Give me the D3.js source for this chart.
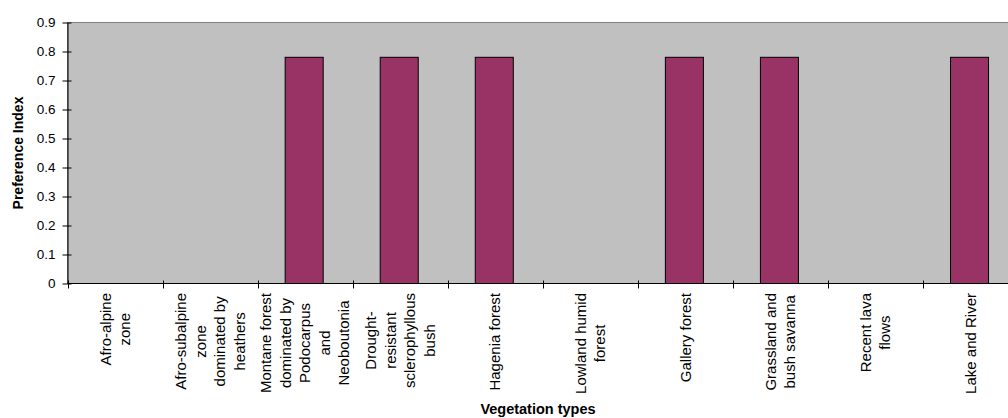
<!DOCTYPE html>
<html>
<head>
<meta charset="utf-8">
<script src="https://cdn.jsdelivr.net/npm/d3@7"></script>
<style>
  body { margin: 0; background: #fff; }
  svg { display: block; font-family: "Liberation Sans", Arial, sans-serif; }
</style>
</head>
<body>
<div id="chart"></div>
<script>
// chart data
var categories = [
  "Afro-alpine zone",
  "Afro-subalpine zone dominated by heathers",
  "Montane forest dominated by Podocarpus and Neoboutonia",
  "Drought-resistant sclerophyllous bush",
  "Hagenia forest",
  "Lowland humid forest",
  "Gallery forest",
  "Grassland and bush savanna",
  "Recent lava flows",
  "Lake and River"
];
// how each category label wraps in the picture
var labelLines = [
  ["Afro-alpine", "zone"],
  ["Afro-subalpine", "zone", "dominated by", "heathers"],
  ["Montane forest", "dominated by", "Podocarpus", "and", "Neoboutonia"],
  ["Drought-", "resistant", "sclerophyllous", "bush"],
  ["Hagenia forest"],
  ["Lowland humid", "forest"],
  ["Gallery forest"],
  ["Grassland and", "bush savanna"],
  ["Recent lava", "flows"],
  ["Lake and River"]
];
var preferenceIndex = [0, 0, 0.78, 0.78, 0.78, 0, 0.78, 0.78, 0, 0.78];
var yTicks = [0, 0.1, 0.2, 0.3, 0.4, 0.5, 0.6, 0.7, 0.8, 0.9];
var yTickLabels = ["0", "0.1", "0.2", "0.3", "0.4", "0.5", "0.6", "0.7", "0.8", "0.9"];

var width = 1008, height = 418;
var plot = { left: 67.5, right: 1018, top: 22.5, bottom: 283.5 };

var svg = d3.select("#chart").append("svg")
  .attr("width", width)
  .attr("height", height);

var x = d3.scaleBand()
  .domain(categories)
  .range([plot.left, plot.right])
  .padding(0);

var y = d3.scaleLinear()
  .domain([0, 0.9])
  .range([plot.bottom, plot.top]);

// plot area
svg.append("rect")
  .attr("x", plot.left)
  .attr("y", plot.top)
  .attr("width", plot.right - plot.left)
  .attr("height", plot.bottom - plot.top)
  .attr("fill", "#c0c0c0")
  .attr("stroke", "#808080")
  .attr("stroke-width", 1);

// bars
var bw = x.bandwidth();
svg.selectAll("rect.bar")
  .data(categories)
  .enter().append("rect")
    .attr("class", "bar")
    .attr("x", d => x(d) + bw * 0.29)
    .attr("y", (d, i) => y(preferenceIndex[i]))
    .attr("width", bw * 0.4)
    .attr("height", (d, i) => y(0) - y(preferenceIndex[i]))
    .attr("fill", "#993366")
    .attr("stroke", "#000")
    .attr("stroke-width", 1)
    .style("display", (d, i) => preferenceIndex[i] > 0 ? null : "none");

// y axis
var yAxis = d3.axisLeft(y)
  .tickValues(yTicks)
  .tickFormat((d, i) => yTickLabels[i])
  .tickSizeOuter(0)
  .tickSizeInner(5)
  .tickPadding(7);

var gy = svg.append("g")
  .attr("transform", "translate(" + plot.left + ",0)")
  .call(yAxis);
gy.select(".domain").attr("stroke", "#000");
gy.selectAll(".tick line").attr("x2", -5).attr("x1", 4).attr("stroke", "#000");
gy.selectAll(".tick text")
  .attr("font-size", "13.5px")
  .attr("font-family", "'Liberation Sans', Arial, sans-serif")
  .attr("fill", "#000");

// x axis line and ticks at category boundaries
svg.append("line")
  .attr("x1", plot.left).attr("x2", plot.right)
  .attr("y1", plot.bottom).attr("y2", plot.bottom)
  .attr("stroke", "#000");

svg.selectAll("line.xtick")
  .data(categories.concat([null]))
  .enter().append("line")
    .attr("class", "xtick")
    .attr("x1", d => Math.round(d === null ? plot.right : x(d)) + 0.5)
    .attr("x2", d => Math.round(d === null ? plot.right : x(d)) + 0.5)
    .attr("y1", plot.bottom - 3)
    .attr("y2", plot.bottom + 5)
    .attr("stroke", "#000");

// rotated, wrapped category labels
var lh = 19.5, fs = 15, labelTop = 293;
var lab = svg.selectAll("g.xlab")
  .data(categories)
  .enter().append("g")
    .attr("class", "xlab");

lab.each(function(d, i) {
  var g = d3.select(this);
  var lines = labelLines[i];
  var cx = x(d) + bw / 2;
  var texts = lines.map(function(t, j) {
    return g.append("text")
      .attr("font-size", fs + "px")
      .attr("fill", "#000")
      .attr("text-anchor", "middle")
      .attr("dy", "0.35em")
      .text(t);
  });
  var maxLen = d3.max(texts, t => t.node().getComputedTextLength());
  var cy = labelTop + maxLen / 2;
  texts.forEach(function(t, j) {
    var off = (j - (lines.length - 1) / 2) * lh;
    t.attr("transform", "translate(" + (cx + off) + "," + cy + ") rotate(-90)");
  });
});

// axis titles
svg.append("text")
  .attr("transform", "translate(23," + ((plot.top + plot.bottom) / 2) + ") rotate(-90)")
  .attr("text-anchor", "middle")
  .attr("font-size", "14px")
  .attr("font-weight", "bold")
  .text("Preference Index");

svg.append("text")
  .attr("x", 538)
  .attr("y", 414)
  .attr("text-anchor", "middle")
  .attr("font-size", "14.5px")
  .attr("font-weight", "bold")
  .text("Vegetation types");
</script>
</body>
</html>
